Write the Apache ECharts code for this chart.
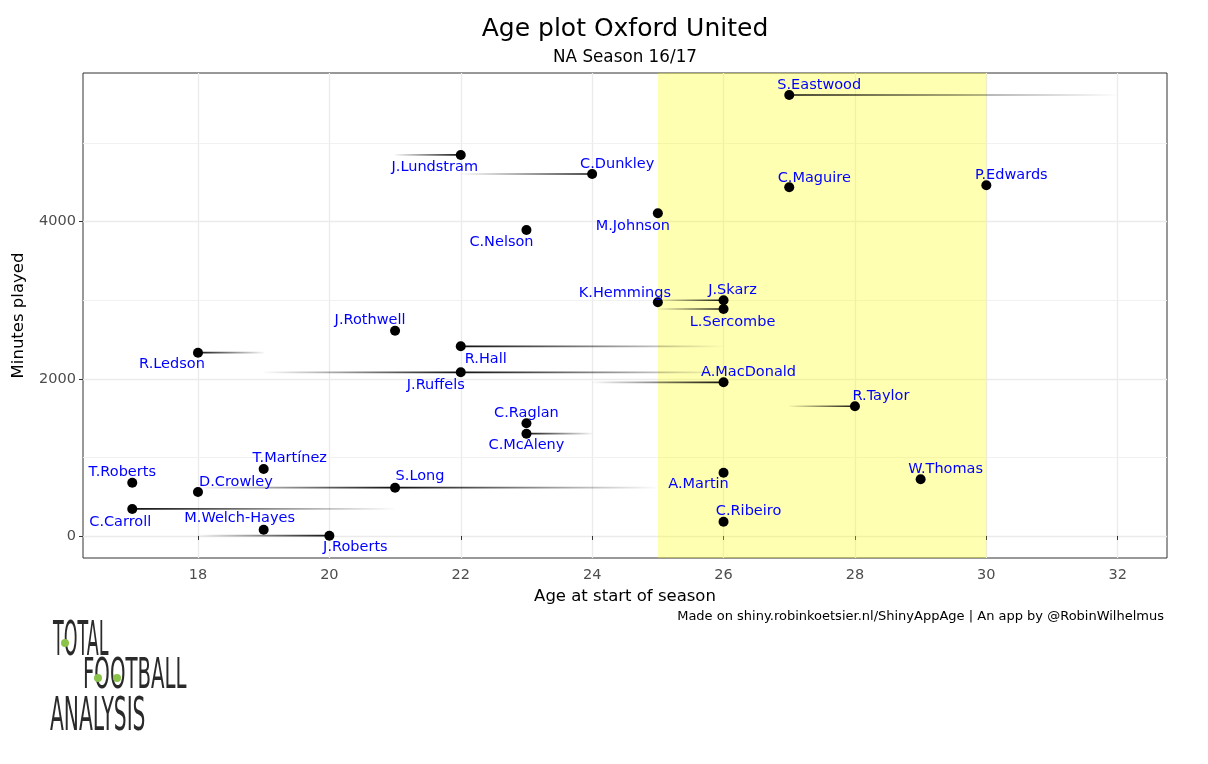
<!DOCTYPE html>
<html><head><meta charset="utf-8">
<script src="https://cdn.jsdelivr.net/npm/echarts@6/dist/echarts.min.js"></script>
<style>html,body{margin:0;padding:0;background:#fff}#c{width:1208px;height:764px}</style>
</head><body><div id="c"></div>
<script>
// ---- data ----
const players = ['S.Eastwood','J.Lundstram','C.Dunkley','C.Maguire','P.Edwards','M.Johnson','C.Nelson','K.Hemmings','J.Skarz','L.Sercombe','J.Rothwell','R.Hall','R.Ledson','J.Ruffels','A.MacDonald','R.Taylor','C.Raglan','C.McAleny','T.Martínez','A.Martin','W.Thomas','T.Roberts','S.Long','D.Crowley','C.Carroll','C.Ribeiro','M.Welch-Hayes','J.Roberts'];
const ages = [27,22,24,27,30,25,23,25,26,26,21,22,18,22,26,28,23,23,19,26,29,17,21,18,17,26,19,20];
const minutes = [5612,4849,4607,4438,4463,4107,3894,2974,3000,2889,2613,2414,2333,2083,1956,1651,1434,1302,853,806,722,678,615,560,344,182,80,4];
// fading link segments: player and the age at the faded end
const segPlayers = ['S.Eastwood','J.Lundstram','C.Dunkley','J.Skarz','L.Sercombe','R.Hall','R.Ledson','J.Ruffels','J.Ruffels','A.MacDonald','R.Taylor','C.McAleny','S.Long','S.Long','C.Carroll','J.Roberts'];
const segEndAges = [32,21,22,25,25,26,19,19,26,24,27,24,18,25,21,18];
const peakAgeBand = [25, 30];
const xTicks = [18,20,22,24,26,28,30,32];
const yTicks = [0,2000,4000];
const yMinorGrid = [1000,3000,5000];
const titleText = 'Age plot Oxford United';
const subtitleText = 'NA Season 16/17';
const captionText = 'Made on shiny.robinkoetsier.nl/ShinyAppAge | An app by @RobinWilhelmus';

// ---- label placement (layout only) ----
const labelOffsets = {
  'S.Eastwood':[30,-10],'J.Lundstram':[-26,12],'C.Dunkley':[25,-10],'C.Maguire':[25,-9],'P.Edwards':[25,-10],
  'M.Johnson':[-25,13],'C.Nelson':[-25,12],'K.Hemmings':[-33,-9],'J.Skarz':[9,-10],'L.Sercombe':[9,13],
  'J.Rothwell':[-25,-10],'R.Hall':[25,13],'R.Ledson':[-26,12],'J.Ruffels':[-25,13],'A.MacDonald':[25,-10],
  'R.Taylor':[26,-10],'C.Raglan':[0,-10],'C.McAleny':[0,12],'T.Martínez':[26,-11],'A.Martin':[-25,12],
  'W.Thomas':[25,-10],'T.Roberts':[-10,-10],'S.Long':[25,-11],'D.Crowley':[38,-10],'C.Carroll':[-12,13],
  'C.Ribeiro':[25,-10],'M.Welch-Hayes':[-24,-11],'J.Roberts':[26,12]
};

const FONT = 'DejaVu Sans';
const chart = echarts.init(document.getElementById('c'), null, {renderer:'canvas'});
const idx = {}; players.forEach((p,i)=>{ idx[p]=i; });

const segSeries = segPlayers.map((p,k)=>{
  const i = idx[p], x0 = ages[i], x1 = segEndAges[k], y = minutes[i];
  const dark = 'rgba(0,0,0,0.95)', clear = 'rgba(0,0,0,0)';
  const stops = x0 < x1 ? [{offset:0,color:dark},{offset:1,color:clear}] : [{offset:0,color:clear},{offset:1,color:dark}];
  return {type:'line', data:[[x0,y],[x1,y]], symbol:'none', silent:true, z:3, animation:false,
    lineStyle:{width:1.7, color:new echarts.graphic.LinearGradient(0,0,1,0,stops)}};
});

const option = {
  animation:false,
  textStyle:{fontFamily:FONT},
  grid:{left:83, right:41, top:73, bottom:206, show:true, borderColor:'#333333', borderWidth:1, backgroundColor:'transparent', containLabel:false},
  xAxis:{type:'value', min:16.25, max:32.75,
    axisLine:{show:false},
    axisTick:{show:true, length:4, lineStyle:{color:'#333333'}, customValues:xTicks},
    axisLabel:{customValues:xTicks, color:'#4D4D4D', fontSize:14.5, margin:10, fontFamily:FONT, formatter:v=>String(v)},
    splitLine:{show:false},
    name:'Age at start of season', nameLocation:'middle', nameGap:29,
    nameTextStyle:{color:'#000', fontSize:16.5, fontFamily:FONT}},
  yAxis:{type:'value', min:-280, max:5892,
    axisLine:{show:false},
    axisTick:{show:true, length:4, lineStyle:{color:'#333333'}, customValues:yTicks},
    axisLabel:{customValues:yTicks, color:'#4D4D4D', fontSize:14.5, margin:7, fontFamily:FONT, formatter:v=>String(v)},
    splitLine:{show:false},
    name:'Minutes played', nameLocation:'middle', nameGap:56,
    nameTextStyle:{color:'#000', fontSize:16.5, fontFamily:FONT}},
  series:[
    {type:'line', data:[], symbol:'none', silent:true, z:0,
      markLine:{silent:true, symbol:'none', z:0, animation:false, label:{show:false},
        lineStyle:{color:'#EBEBEB', width:1.3, type:'solid'},
        data:[].concat(xTicks.map(v=>({xAxis:v})), yTicks.map(v=>({yAxis:v})),
          yMinorGrid.map(v=>({yAxis:v, lineStyle:{color:'#EFEFEF', width:0.9, type:'solid'}})))}},
    {type:'line', data:[], symbol:'none', silent:true, z:1,
      markArea:{silent:true, z:1, animation:false, itemStyle:{color:'rgba(255,255,0,0.3)'},
        data:[[{xAxis:peakAgeBand[0]},{xAxis:peakAgeBand[1]}]]}},
    ...segSeries,
    {type:'scatter', z:4, symbolSize:10, itemStyle:{color:'#000', opacity:1}, silent:true,
      data:players.map((p,i)=>({name:p, value:[ages[i],minutes[i]], label:{offset:labelOffsets[p]||[0,-11]}})),
      label:{show:true, position:'inside', formatter:'{b}', color:'#0000FF', opacity:1, fontSize:14.5, fontFamily:FONT}}
  ],
  graphic:[
    {type:'text', x:625, y:29, style:{text:titleText, align:'center', verticalAlign:'middle', fontSize:25, fontFamily:FONT, fill:'#000'}},
    {type:'text', x:625, y:58, style:{text:subtitleText, align:'center', verticalAlign:'middle', fontSize:16.8, fontFamily:FONT, fill:'#000'}},
    {type:'text', x:1164, y:617, style:{text:captionText, align:'right', verticalAlign:'middle', fontSize:13, fontFamily:FONT, fill:'#000'}},
    // logo
    {type:'text', x:53, y:643, scaleX:0.365, style:{text:'TOTAL', align:'left', verticalAlign:'middle', fontSize:48, fontFamily:FONT, fill:'#2a2a2a'}},
    {type:'text', x:83, y:677, scaleX:0.47, style:{text:'FOOTBALL', align:'left', verticalAlign:'middle', fontSize:42, fontFamily:FONT, fill:'#2a2a2a'}},
    {type:'text', x:50, y:718, scaleX:0.44, style:{text:'ANALYSIS', align:'left', verticalAlign:'middle', fontSize:46, fontFamily:FONT, fill:'#2a2a2a'}},
    {type:'circle', shape:{cx:65, cy:643, r:4}, style:{fill:'#8BC34A'}},
    {type:'circle', shape:{cx:98, cy:678, r:4}, style:{fill:'#8BC34A'}},
    {type:'circle', shape:{cx:117, cy:678, r:4}, style:{fill:'#8BC34A'}}
  ]
};
chart.setOption(option);
</script>
</body></html>
